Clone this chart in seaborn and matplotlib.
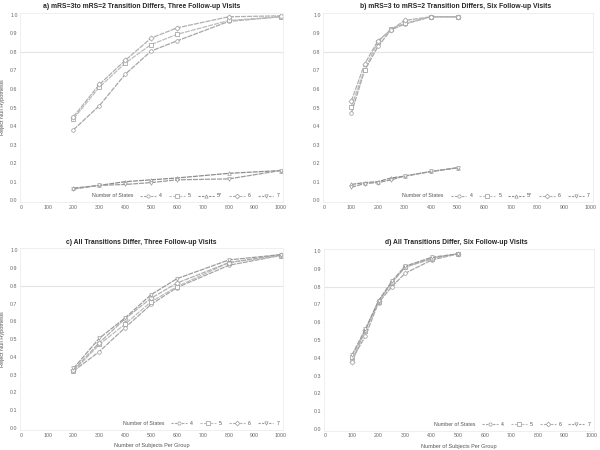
import numpy as np
import pandas as pd
import matplotlib
matplotlib.use("Agg")
import matplotlib.pyplot as plt
import seaborn as sns
from matplotlib.lines import Line2D

# sample sizes
n_three = [200, 300, 400, 500, 600, 800, 1000]
n_six = [100, 150, 200, 250, 300, 400, 500]

# a) mRS=3 to mRS=2 transition differs, three visits
a_states = ["4", "5", "5*", "6", "7"]
a_power = {
    "4": [0.38, 0.51, 0.68, 0.805, 0.86, 0.965, 0.99],
    "5": [0.44, 0.61, 0.74, 0.84, 0.895, 0.97, 0.99],
    "5*": [0.065, 0.08, 0.10, 0.11, 0.12, 0.145, 0.16],
    "6": [0.45, 0.625, 0.755, 0.875, 0.93, 0.99, 0.995],
    "7": [0.06, 0.08, 0.085, 0.095, 0.11, 0.115, 0.16],
}

# b) mRS=3 to mRS=2 transition differs, six visits
b_states = ["4", "5", "5*", "6", "7"]
b_power = {
    "4": [0.47, 0.70, 0.83, 0.92, 0.95, 0.99, 0.99],
    "5": [0.505, 0.705, 0.855, 0.925, 0.955, 0.99, 0.99],
    "5*": [0.085, 0.095, 0.10, 0.12, 0.13, 0.155, 0.175],
    "6": [0.535, 0.735, 0.86, 0.92, 0.97, 0.99, 0.99],
    "7": [0.07, 0.09, 0.095, 0.11, 0.13, 0.155, 0.175],
}

# c) all transitions differ, three visits
c_states = ["4", "5", "6", "7"]
c_power = {
    "4": [0.32, 0.43, 0.565, 0.695, 0.79, 0.915, 0.97],
    "5": [0.32, 0.47, 0.585, 0.71, 0.795, 0.93, 0.97],
    "6": [0.325, 0.48, 0.615, 0.73, 0.815, 0.93, 0.975],
    "7": [0.335, 0.505, 0.62, 0.75, 0.84, 0.945, 0.975],
}

# d) all transitions differ, six visits
d_states = ["4", "5", "6", "7"]
d_power = {
    "4": [0.39, 0.52, 0.71, 0.80, 0.875, 0.95, 0.985],
    "5": [0.405, 0.55, 0.715, 0.82, 0.91, 0.955, 0.985],
    "6": [0.375, 0.555, 0.72, 0.825, 0.91, 0.96, 0.985],
    "7": [0.415, 0.56, 0.72, 0.83, 0.915, 0.965, 0.985],
}

titles = [
    "a) mRS=3to mRS=2 Transition Differs, Three Follow-up Visits",
    "b) mRS=3 to mRS=2 Transition Differs, Six Follow-up Visits",
    "c) All Transitions Differ, Three Follow-up Visits",
    "d) All Transitions Differ, Six Follow-up Visits",
]

greys = {"4": "#a6a6a6", "5": "#bdbdbd", "5*": "#8c8c8c", "6": "#b0b0b0", "7": "#9c9c9c"}
marks = {"4": "o", "5": "s", "5*": "^", "6": "D", "7": "v"}


def to_long(ns, power, states):
    rows = []
    for s in states:
        for n, p in zip(ns, power[s]):
            rows.append({"n": n, "power": p, "states": s})
    return pd.DataFrame(rows)


sns.set_theme(style="white")
plt.rcParams["font.family"] = ["Liberation Sans", "DejaVu Sans"]

fig = plt.figure(figsize=(6, 4.5), dpi=100)
boxes = [
    [0.034, 0.551, 0.438, 0.42],
    [0.539, 0.551, 0.45, 0.42],
    [0.034, 0.045, 0.438, 0.403],
    [0.540, 0.043, 0.45, 0.403],
]
title_x = [0.46, 0.49, 0.46, 0.49]
panels = [
    (n_three, a_power, a_states),
    (n_six, b_power, b_states),
    (n_three, c_power, c_states),
    (n_six, d_power, d_states),
]

for i, (box, (ns, power, states)) in enumerate(zip(boxes, panels)):
    ax = fig.add_axes(box)
    df = to_long(ns, power, states)
    sns.lineplot(data=df, x="n", y="power", hue="states", style="states",
                 hue_order=states, style_order=states,
                 palette=[greys[s] for s in states],
                 markers=[marks[s] for s in states],
                 dashes=[(4, 0.8)] * len(states),
                 markersize=2.6, linewidth=0.9, markeredgewidth=0.5,
                 markerfacecolor="white", markeredgecolor="#999999",
                 ax=ax, legend=False)
    ax.axhline(0.8, color="#e4e4e4", lw=0.8, zorder=0)
    ax.set_xlim(-5, 1010)
    ax.set_ylim(-0.01, 1.01)
    ax.set_xticks(np.arange(0, 1001, 100))
    ax.set_yticks(np.arange(0, 1.01, 0.1))
    ax.set_yticklabels([f"{v:.1f}" for v in np.arange(0, 1.01, 0.1)])
    ax.tick_params(labelsize=3.8, colors="#666666", length=0, pad=2)
    for sp in ax.spines.values():
        sp.set_color("#ededed")
        sp.set_linewidth(0.6)
    ax.set_title(titles[i], fontsize=4.9, fontweight="bold", pad=3.5, x=title_x[i])
    ax.set_xlabel("Number of Subjects Per Group" if i >= 2 else "", fontsize=4, color="#555555")
    ax.set_ylabel("Reject Null Hypothesis" if i % 2 == 0 else "", fontsize=4, color="#555555")

    handles = [Line2D([], [], color="none")]
    labels = ["Number of States"]
    for s in states:
        handles.append(Line2D([], [], color=greys[s], marker=marks[s], ls=(0, (2, 1.2)),
                              lw=0.8, markersize=2.4, markerfacecolor="white",
                              markeredgecolor="#999999", markeredgewidth=0.5))
        labels.append(s)
    leg = ax.legend(handles, labels, ncol=len(labels), loc="lower right", frameon=False,
                    fontsize=3.8, handlelength=3, columnspacing=1.3, handletextpad=0.6,
                    borderaxespad=0.3)
    for t in leg.get_texts():
        t.set_color("#555555")

fig.savefig("out.png", dpi=100)
